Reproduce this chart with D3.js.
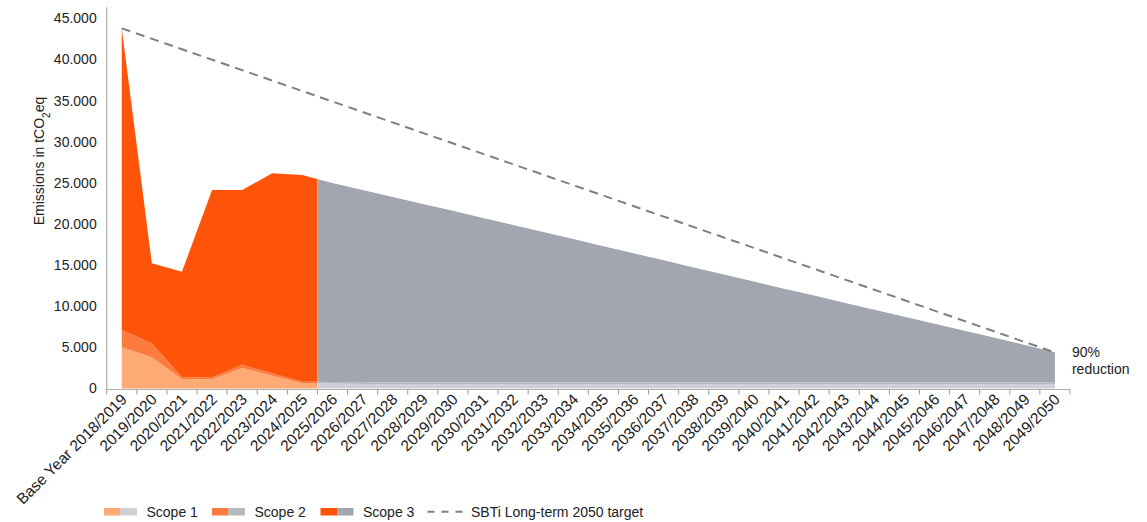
<!DOCTYPE html>
<html>
<head>
<meta charset="utf-8">
<script src="https://cdn.jsdelivr.net/npm/d3@7"></script>
<style>
  body { margin: 0; background: #fff; }
  text { font-family: "Liberation Sans", Arial, Helvetica, sans-serif; fill: #222; }
</style>
</head>
<body>
<div id="plot"></div>
<script>
// categories (fiscal years)
const years = ["Base Year 2018/2019", "2019/2020", "2020/2021", "2021/2022", "2022/2023", "2023/2024",
  "2024/2025", "2025/2026", "2026/2027", "2027/2028", "2028/2029", "2029/2030", "2030/2031",
  "2031/2032", "2032/2033", "2033/2034", "2034/2035", "2035/2036", "2036/2037", "2037/2038",
  "2038/2039", "2039/2040", "2040/2041", "2041/2042", "2042/2043", "2043/2044", "2044/2045",
  "2045/2046", "2046/2047", "2047/2048", "2048/2049", "2049/2050"];

// emissions in tCO2eq
const scope1 = [5010, 3790, 1150, 1120, 2490, 1560, 630, 600, 550, 550, 550, 550, 550, 550, 550, 550,
  550, 550, 550, 550, 550, 550, 550, 550, 550, 550, 550, 550, 550, 550, 550, 550];
const scope2 = [2100, 1700, 210, 240, 400, 290, 200, 200, 200, 200, 200, 200, 200, 200, 200, 200,
  200, 200, 200, 200, 200, 200, 200, 200, 200, 200, 200, 200, 200, 200, 200, 200];
const scope3 = [36670, 9730, 12840, 22770, 21240, 24310, 25120, 24170, 23380, 22540, 21690, 20850,
  19990, 19130, 18270, 17410, 16550, 15690, 14830, 13970, 13110, 12250, 11390, 10540, 9680, 8820,
  7970, 7110, 6260, 5410, 4550, 3670];

// first year that is a projection (drawn in grey)
const firstProjected = "2025/2026";

// SBTi long-term target line: base year -> 2049/2050 (90% reduction)
const targetYears = ["Base Year 2018/2019", "2049/2050"];
const targetValues = [43780, 4380];

const yTicks = [0, 5000, 10000, 15000, 20000, 25000, 30000, 35000, 40000, 45000];

const actualColors = ["#fdaa74", "#fd7b3c", "#fe540a"];
const projColors = ["#cdd1d7", "#b5bac1", "#a1a6b1"];
const legendNames = ["Scope 1", "Scope 2", "Scope 3"];

const W = 1147, H = 522;
const margin = {top: 18.3, left: 106.7, right: 77, bottom: 133.5};
const width = W - margin.left - margin.right,
    height = H - margin.top - margin.bottom;

const svg = d3.select("#plot").append("svg")
    .attr("width", W)
    .attr("height", H);

const g = svg.append("g")
    .attr("transform", "translate(" + margin.left + "," + margin.top + ")");

const x = d3.scaleBand().domain(years).range([0, width]).padding(0);
const cx = d => x(d) + x.bandwidth() / 2;
const y = d3.scaleLinear().domain([0, 45000]).range([height, 0]);

const locale = d3.formatLocale({decimal: ",", thousands: ".", grouping: [3], currency: ["", ""]});
const fmt = locale.format(",");

// stacked data
const rows = years.map((yr, i) => ({year: yr, s1: scope1[i], s2: scope2[i], s3: scope3[i]}));
const stacked = d3.stack().keys(["s1", "s2", "s3"])(rows);

const area = d3.area()
    .x(d => cx(d.data.year))
    .y0(d => y(d[0]))
    .y1(d => y(d[1]));

// split actual vs projection halfway before the first projected year
const splitX = x(firstProjected);

const defs = svg.append("defs");
defs.append("clipPath").attr("id", "clipActual")
    .append("rect").attr("x", -5).attr("y", -5).attr("width", splitX + 5).attr("height", height + 10);
defs.append("clipPath").attr("id", "clipProj")
    .append("rect").attr("x", splitX).attr("y", -5).attr("width", width - splitX + 5).attr("height", height + 10);

g.append("g").attr("clip-path", "url(#clipActual)")
    .selectAll("path")
    .data(stacked)
    .enter()
    .append("path")
    .attr("d", area)
    .attr("fill", (d, i) => actualColors[i]);

g.append("g").attr("clip-path", "url(#clipProj)")
    .selectAll("path")
    .data(stacked)
    .enter()
    .append("path")
    .attr("d", area)
    .attr("fill", (d, i) => projColors[i]);

// target line
g.append("path")
    .datum(targetYears.map((yr, i) => ({year: yr, v: targetValues[i]})))
    .attr("fill", "none")
    .attr("stroke", "#808080")
    .attr("stroke-width", 2)
    .attr("stroke-dasharray", "9,6")
    .attr("d", d3.line().x(d => cx(d.year)).y(d => y(d.v)));

g.append("text")
    .attr("x", cx("2049/2050") + 17)
    .attr("y", y(targetValues[1]) + 5)
    .style("font-size", "14px")
    .text("90%");
g.append("text")
    .attr("x", cx("2049/2050") + 17)
    .attr("y", y(targetValues[1]) + 22)
    .style("font-size", "14px")
    .text("reduction");

// y axis
const yAxis = g.append("g")
    .call(d3.axisLeft(y).tickValues(yTicks).tickSize(0).tickPadding(10).tickFormat(fmt));
yAxis.select(".domain").remove();
yAxis.selectAll("text").style("font-size", "14px").attr("fill", "#222");

g.append("line")
    .attr("x1", 0).attr("x2", 0)
    .attr("y1", -11).attr("y2", height + 1)
    .attr("stroke", "#b0b0b0").attr("stroke-width", 1.2);

// x axis
g.append("line")
    .attr("x1", 0).attr("x2", width)
    .attr("y1", height + 1).attr("y2", height + 1)
    .attr("stroke", "#b0b0b0").attr("stroke-width", 1.2);

g.selectAll(".xtick")
    .data(years.concat(["end"]))
    .enter()
    .append("line")
    .attr("class", "xtick")
    .attr("x1", d => d === "end" ? width : x(d))
    .attr("x2", d => d === "end" ? width : x(d))
    .attr("y1", height + 1).attr("y2", height + 6)
    .attr("stroke", "#999").attr("stroke-width", 1);

g.selectAll(".xlabel")
    .data(years)
    .enter()
    .append("text")
    .attr("class", "xlabel")
    .attr("text-anchor", "end")
    .attr("transform", d => "translate(" + (cx(d) + 6) + "," + (height + 12) + ") rotate(-45)")
    .style("font-size", "15.5px")
    .text(d => d);

// y title
const yt = svg.append("text")
    .attr("transform", "translate(44," + 161 + ") rotate(-90)")
    .attr("text-anchor", "middle")
    .style("font-size", "14px");
yt.append("tspan").text("Emissions in tCO");
yt.append("tspan").attr("baseline-shift", "sub").style("font-size", "10px").text("2");
yt.append("tspan").text("eq");

// legend
const legend = svg.append("g").attr("transform", "translate(104,508)");
const legX = [0, 108, 216.5];
legendNames.forEach((name, i) => {
    const lg = legend.append("g").attr("transform", "translate(" + legX[i] + ",0)");
    lg.append("rect").attr("width", 16.5).attr("height", 7.5).attr("fill", actualColors[i]);
    lg.append("rect").attr("x", 16.5).attr("width", 16.5).attr("height", 7.5).attr("fill", projColors[i]);
    lg.append("text").attr("x", 42.5).attr("y", 9).style("font-size", "14px").text(name);
});
const ld = legend.append("g").attr("transform", "translate(323.5,0)");
ld.append("line")
    .attr("x1", 0).attr("x2", 35).attr("y1", 3.75).attr("y2", 3.75)
    .attr("stroke", "#808080").attr("stroke-width", 2).attr("stroke-dasharray", "7,7");
ld.append("text").attr("x", 43.5).attr("y", 9).style("font-size", "14px").text("SBTi Long-term 2050 target");
</script>
</body>
</html>
